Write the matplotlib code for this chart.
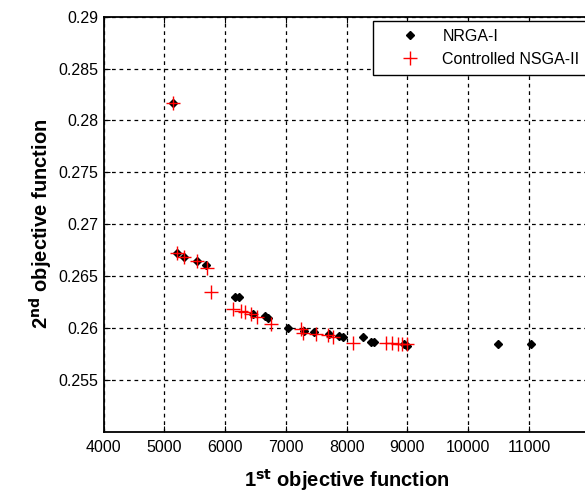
import matplotlib.pyplot as plt
import numpy as np

# NRGA-I (black dots)
nrga_x = [5148, 5213, 5328, 5541, 5690, 6159, 6230, 6459, 6662, 6705,
          7044, 7306, 7459, 7716, 7869, 7934, 8262, 8400, 8443, 8950,
          8990, 10487, 11028]
nrga_y = [0.2817, 0.26725, 0.26687, 0.26645, 0.26607, 0.2630, 0.2630, 0.2613, 0.26115, 0.26099,
          0.2600, 0.25971, 0.25962, 0.25941, 0.25922, 0.2591, 0.2591, 0.25867, 0.25867, 0.2585,
          0.2583, 0.25842, 0.25842]

# Controlled NSGA-II (red plus)
nsga_x = [5148, 5213, 5328, 5541, 5695, 5761, 6131, 6269, 6334, 6433,
          6525, 6760, 7252, 7280, 7498, 7689, 7770, 8110, 8646, 8754,
          8848, 8918, 9000]
nsga_y = [0.2817, 0.26725, 0.26687, 0.26645, 0.26581, 0.26344, 0.26183, 0.26166, 0.26151, 0.26134,
          0.26103, 0.26035, 0.25987, 0.25955, 0.25939, 0.25932, 0.2591, 0.25852, 0.25852, 0.25852,
          0.2585, 0.2585, 0.2585]

xticks = [4000, 5000, 6000, 7000, 8000, 9000, 10000, 11000]
yticks = [0.255, 0.26, 0.265, 0.27, 0.275, 0.28, 0.285, 0.29]

plt.rcParams['font.family'] = ['Liberation Sans', 'DejaVu Sans']

W, H = 585, 492
fig = plt.figure(figsize=(W / 100, H / 100), dpi=100)
# axes run a little past the right edge, as in the cropped original
l, r, t, b = 103.5, 589.7, 16.7, 431.7
ax = fig.add_axes([l / W, 1 - b / H, (r - l) / W, (b - t) / H])

ax.plot(nrga_x, nrga_y, linestyle='', marker='D', markersize=3.8, color='black', label='NRGA-I')
ax.plot(nsga_x, nsga_y, linestyle='', marker='+', markersize=10, markeredgewidth=1.0,
        color='red', label='Controlled NSGA-II')

ax.set_xlim(4000, 12000)
ax.set_ylim(0.25, 0.29)
ax.set_xticks(xticks)
ax.set_xticklabels([str(v) for v in xticks])
ax.set_yticks(yticks)
ax.set_yticklabels([f'{v:g}' for v in yticks])
ax.tick_params(direction='in', top=True, right=True, labelsize=11.5, length=4, colors='black')
ax.tick_params(axis='x', pad=6)

ax.grid(True, color='black', linestyle=(0, (3, 3)), linewidth=0.9)
for s in ax.spines.values():
    s.set_linewidth(1.3)

ax.set_xlabel(r'1$^{\mathbf{st}}$ objective function', fontsize=14.5, fontweight='bold')
ax.set_ylabel(r'2$^{\mathbf{nd}}$ objective function', fontsize=14.5, fontweight='bold')
ax.xaxis.set_label_coords(0.5, -0.085)
ax.yaxis.set_label_coords(-0.10, 0.5)

leg = ax.legend(loc='upper left', bbox_to_anchor=(373 / W, 1 - 21 / H),
                bbox_transform=fig.transFigure, borderaxespad=0, fancybox=False,
                edgecolor='black', framealpha=1, fontsize=11.5, handletextpad=0.25,
                borderpad=0.5, labelspacing=0.5, handlelength=3.6, numpoints=1)
leg.get_frame().set_linewidth(1.0)

fig.savefig('out.png', dpi=100)
